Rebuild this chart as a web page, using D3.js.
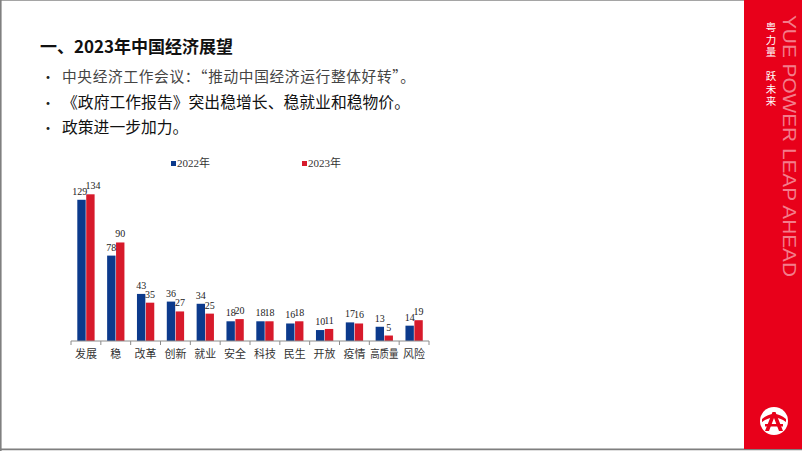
<!DOCTYPE html>
<html><head><meta charset="utf-8">
<script src="https://cdn.jsdelivr.net/npm/d3@7"></script>
<style>
html,body{margin:0;padding:0;background:#fff;}
svg{display:block;}
</style></head>
<body>
<svg id="c" width="802" height="451"></svg>
<script>
const categories = ["发展","稳","改革","创新","就业","安全","科技","民生","开放","疫情","高质量","风险"];
const series = ["2022年","2023年"];
const values2022 = [129,78,43,36,34,18,18,16,10,17,13,14];
const values2023 = [134,90,35,27,25,20,18,18,11,16,5,19];
const colors = ["#0c3a8c","#d71a2b"];
const bullets = ["中央经济工作会议：“推动中国经济运行整体好转”。","《政府工作报告》突出稳增长、稳就业和稳物价。","政策进一步加力。"];
const title = "一、2023年中国经济展望";

const svg = d3.select("#c");
const sans = "'Noto Sans CJK SC','Noto Sans',sans-serif";
const serif = "'Liberation Serif','Noto Sans CJK SC',serif";

// page border
svg.append("rect").attr("x",0.5).attr("y",0.5).attr("width",801).attr("height",448.5)
  .attr("fill","none").attr("stroke","#a5a5a5").attr("stroke-width",1);
svg.append("line").attr("x1",0).attr("x2",802).attr("y1",449.5).attr("y2",449.5).attr("stroke","#7f7f7f").attr("stroke-width",1.5);
svg.append("line").attr("x1",0.8).attr("x2",0.8).attr("y1",0).attr("y2",451).attr("stroke","#808080").attr("stroke-width",1.6);

// red sidebar
svg.append("rect").attr("x",744).attr("y",0).attr("width",58).attr("height",449).attr("fill","#e8001a");
svg.append("text").attr("x",771).attr("y",22)
  .attr("writing-mode","vertical-rl").style("text-orientation","upright")
  .attr("font-family",sans).attr("font-size",10.5).attr("letter-spacing",1.8)
  .attr("fill","#fff").text("粤力量　跃未来");
svg.append("text").attr("transform","translate(783,15) rotate(90)")
  .attr("font-family","'Liberation Sans',Arial,sans-serif").attr("font-size",19)
  .attr("textLength",262).attr("lengthAdjust","spacingAndGlyphs")
  .attr("fill","#f58a98").attr("opacity",0.9).text("YUE POWER LEAP AHEAD");
// logo
const lg = svg.append("g").attr("transform","translate(774,421)");
lg.append("circle").attr("r",14).attr("fill","#fff");
lg.append("path").attr("d","M-12,-2 Q0,-12 12,-2 L12,1 Q0,-8 -12,1 Z").attr("fill","#e8001a");
lg.append("path").attr("d","M-1.5,-9 L1.5,-9 L9,10 L5,10 L0,-3 L-5,10 L-9,10 Z").attr("fill","#e8001a");
lg.append("path").attr("d","M-9,3 L9,3 L9,5.5 L-9,5.5 Z").attr("fill","#e8001a");

// title & bullets
svg.append("text").attr("x",40).attr("y",53).attr("font-family",sans).attr("font-weight","bold")
  .attr("font-size",17).attr("fill","#111").text(title);
const bw = [353,348,null];
const bg = svg.append("g");
bullets.forEach((b,i)=>{
  const y = 82 + i*25.5;
  bg.append("text").attr("x",41).attr("y",y).attr("font-family",sans).attr("font-size",14).attr("fill","#222").text("•");
  const t = bg.append("text").attr("x",62).attr("y",y).attr("font-family",sans).attr("font-size",i===0?14.7:15.8)
    .attr("fill",i===0?"#444":"#111").text(b);
  if (bw[i]) t.attr("textLength",bw[i]).attr("lengthAdjust","spacing");
});

// chart
const x = d3.scaleBand().domain(categories).range([71,429]).paddingInner(0).paddingOuter(0);
const xs = d3.scaleBand().domain(series).range([6.3,23.6]).paddingInner(0.06);
const y = d3.scaleLinear().domain([0,134]).range([341,194.3]);
const data = categories.map((c,i)=>({c, vals:[values2022[i],values2023[i]]}));

const groups = svg.append("g").selectAll("g").data(data).join("g")
  .attr("transform",d=>`translate(${x(d.c)},0)`);
groups.selectAll("rect").data(d=>d.vals.map((v,j)=>({s:series[j],v,j}))).join("rect")
  .attr("x",d=>xs(d.s)).attr("width",xs.bandwidth())
  .attr("y",d=>y(d.v)).attr("height",d=>y(0)-y(d.v))
  .attr("fill",d=>colors[d.j]);
groups.selectAll("text.v").data(d=>d.vals.map((v,j)=>({s:series[j],v,j}))).join("text")
  .attr("class","v")
  .attr("x",d=>xs(d.s)+xs.bandwidth()/2 + (String(d.v).length>2 ? (d.j===0?-1.8:2.6) : 0))
  .attr("y",d=>y(d.v)-5)
  .attr("text-anchor","middle").attr("font-family",serif).attr("font-size",10).attr("fill","#222")
  .text(d=>d.v);

// axis
const ax = svg.append("g").attr("transform",`translate(0,${y(0)})`);
ax.append("line").attr("x1",71).attr("x2",429).attr("stroke","#8c8c8c").attr("stroke-width",1);
const ticks = categories.map(c=>x(c)).concat([x.range()[1]]);
ax.selectAll("line.t").data(ticks).join("line").attr("class","t")
  .attr("x1",d=>d).attr("x2",d=>d).attr("y1",0).attr("y2",4).attr("stroke","#8c8c8c");
ax.selectAll("text").data(categories).join("text")
  .attr("x",d=>x(d)+x.bandwidth()/2).attr("y",17)
  .attr("text-anchor","middle").attr("font-family",sans).attr("font-size",11).attr("fill","#333")
  .each(function(d){ if (d.length>2) d3.select(this).attr("textLength",28).attr("lengthAdjust","spacingAndGlyphs"); })
  .text(d=>d);

// legend
const legX = [171,302];
series.forEach((s,i)=>{
  svg.append("rect").attr("x",legX[i]).attr("y",161).attr("width",5).attr("height",5).attr("fill",colors[i]);
  svg.append("text").attr("x",legX[i]+6).attr("y",167).attr("font-family",serif).attr("font-size",11)
    .attr("fill","#333").text(s);
});
</script>
</body></html>
